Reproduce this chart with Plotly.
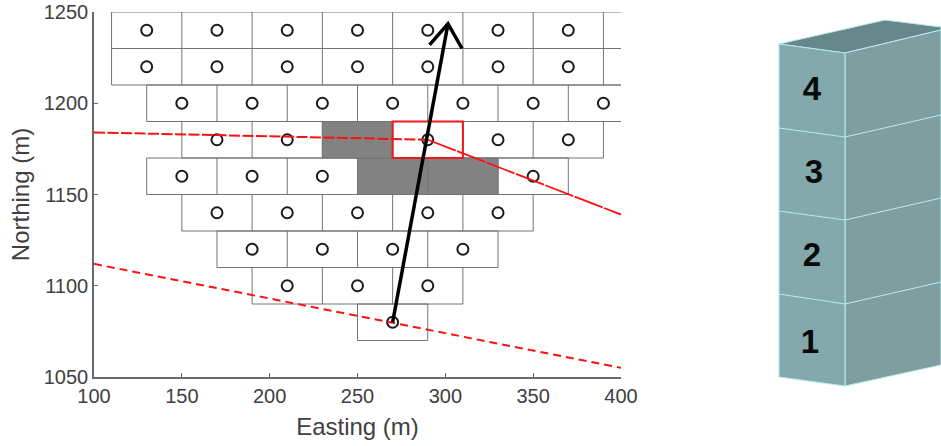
import plotly.graph_objects as go

W, H = 941, 446
# --- survey grid data (m) ---
row_northing = [1240, 1220, 1200, 1180, 1160, 1140, 1120, 1100, 1080]
row_west     = [110, 110, 130, 150, 130, 150, 170, 190, 250]
row_east     = [430, 430, 410, 390, 370, 350, 330, 310, 290]
cell_width = 40
cell_height = 20
hidden_points = [(250, 1180), (270, 1160), (310, 1160)]
grey_blocks = [(230, 270, 1170, 1190), (250, 330, 1150, 1170)]
red_block = (270, 310, 1170, 1190)
red_upper_left_e, red_upper_left_n = [100, 290], [1184, 1180]
red_upper_right_e, red_upper_right_n = [290, 400], [1180, 1139]
red_lower_e, red_lower_n = [100, 400], [1112, 1055]
arrow_e, arrow_n = [270, 301.5], [1080, 1243.5]
arrow_head_e, arrow_head_n = [291, 301.5, 309.5], [1232, 1243.5, 1230]

# --- block diagram (drawing units) ---
layer_labels = ["4", "3", "2", "1"]
layer_label_x = [812, 814, 812, 810]
layer_label_y = [91.5, 174.5, 257.5, 344.5]
front_x = [779, 845, 845, 779]
front_y = [44, 53, 386, 377]
side_x = [845, 941, 941, 845]
side_y = [53, 30, 365, 386]
top_x = [779, 885, 941, 941, 845]
top_y = [44, 20, 27, 30, 53]
seam_x = [779, 845, 941]
seam_y = [[128, 137, 115], [211, 220, 198], [294, 304, 282]]

fig = go.Figure()

def add_poly(xs, ys, fill, line, xa="x", ya="y", width=1):
    fig.add_trace(go.Scatter(x=xs + xs[:1], y=ys + ys[:1], mode="lines", fill="toself",
                             fillcolor=fill, line=dict(color=line, width=width),
                             xaxis=xa, yaxis=ya, hoverinfo="skip", showlegend=False))

# cell outlines
grid_color = "#747474"
gx, gy = [], []
for n, w, e in zip(row_northing, row_west, row_east):
    t, b = n + cell_height / 2, n - cell_height / 2
    gx += [w, e, None, w, e, None]
    gy += [t, t, None, b, b, None]
    for v in range(w, e + 1, cell_width):
        gx += [v, v, None]
        gy += [t, b, None]

for x0, x1, y0, y1 in grey_blocks:
    add_poly([x0, x1, x1, x0], [y0, y0, y1, y1], "#828282", "#828282")

fig.add_trace(go.Scatter(x=gx, y=gy, mode="lines", line=dict(color=grid_color, width=1),
                         hoverinfo="skip", showlegend=False))

# red block
x0, x1, y0, y1 = red_block
fig.add_trace(go.Scatter(x=[x0, x1, x1, x0, x0], y=[y0, y0, y1, y1, y0], mode="lines",
                         line=dict(color="#f01818", width=2), hoverinfo="skip", showlegend=False))

# points
px, py = [], []
for n, w, e in zip(row_northing, row_west, row_east):
    for v in range(w + cell_width // 2, e, cell_width):
        if v <= 400 and (v, n) not in hidden_points:
            px.append(v)
            py.append(n)
fig.add_trace(go.Scatter(x=px, y=py, mode="markers",
                         marker=dict(symbol="circle-open", size=11, color="#1a1a1a", line=dict(width=2, color="#1a1a1a")),
                         showlegend=False, hoverinfo="skip"))

# red lines
fig.add_trace(go.Scatter(x=red_upper_left_e, y=red_upper_left_n, mode="lines",
                         line=dict(color="#ff1010", width=2, dash="11px,2.5px"), showlegend=False, hoverinfo="skip"))
fig.add_trace(go.Scatter(x=red_upper_right_e, y=red_upper_right_n, mode="lines",
                         line=dict(color="#ff1010", width=1.8, dash="30px,1.5px"), showlegend=False, hoverinfo="skip"))
fig.add_trace(go.Scatter(x=red_lower_e, y=red_lower_n, mode="lines",
                         line=dict(color="#ff1010", width=2, dash="8px,5px"), showlegend=False, hoverinfo="skip"))

# arrow
fig.add_trace(go.Scatter(x=arrow_e, y=arrow_n, mode="lines", line=dict(color="black", width=3.5),
                         showlegend=False, hoverinfo="skip"))
fig.add_trace(go.Scatter(x=arrow_head_e, y=arrow_head_n, mode="lines",
                         line=dict(color="black", width=3.5), showlegend=False, hoverinfo="skip"))

# block diagram
edge = "#b4ecec"
add_poly(top_x, top_y, "#67878a", edge, "x2", "y2")
add_poly(side_x, side_y, "#7f9e9f", edge, "x2", "y2")
add_poly(front_x, front_y, "#84a9ac", edge, "x2", "y2")
for sy in seam_y:
    fig.add_trace(go.Scatter(x=seam_x, y=sy, mode="lines", line=dict(color=edge, width=1),
                             xaxis="x2", yaxis="y2", hoverinfo="skip", showlegend=False))
fig.add_trace(go.Scatter(x=layer_label_x, y=layer_label_y, mode="text", text=layer_labels,
                         textfont=dict(family="Liberation Sans", size=33, color="#0a0a0a"),
                         xaxis="x2", yaxis="y2", hoverinfo="skip", showlegend=False,
                         texttemplate="<b>%{text}</b>"))

axis_font = dict(family="Liberation Sans", size=20, color="#404040")
title_font = dict(family="Liberation Sans", size=24, color="#404040")
axis_common = dict(showgrid=False, zeroline=False, showline=True, linecolor="#6a6a6a", linewidth=1.5,
                   ticks="inside", ticklen=4, tickcolor="#6a6a6a", tickwidth=1, tickfont=axis_font, dtick=50,
                   automargin=False)

fig.update_layout(
    width=W, height=H, margin=dict(l=0, r=0, t=0, b=0), paper_bgcolor="white", plot_bgcolor="white",
    showlegend=False,
    xaxis=dict(domain=[94 / W, 621 / W], range=[100, 400],
               title=dict(text="Easting (m)", font=title_font, standoff=12), **axis_common),
    yaxis=dict(domain=[1 - 377 / H, 1 - 12 / H], range=[1050, 1250],
               title=dict(text="Northing (m)", font=title_font, standoff=7), **axis_common),
    xaxis2=dict(domain=[760 / W, 1], range=[760, 941], visible=False, anchor="y2", automargin=False),
    yaxis2=dict(domain=[1 - 410 / H, 1], range=[410, 0], visible=False, anchor="x2", automargin=False),
)
fig.write_html("out.html", config=dict(displayModeBar=False),
               post_script="document.body.style.margin='0';document.body.style.overflow='hidden';")
